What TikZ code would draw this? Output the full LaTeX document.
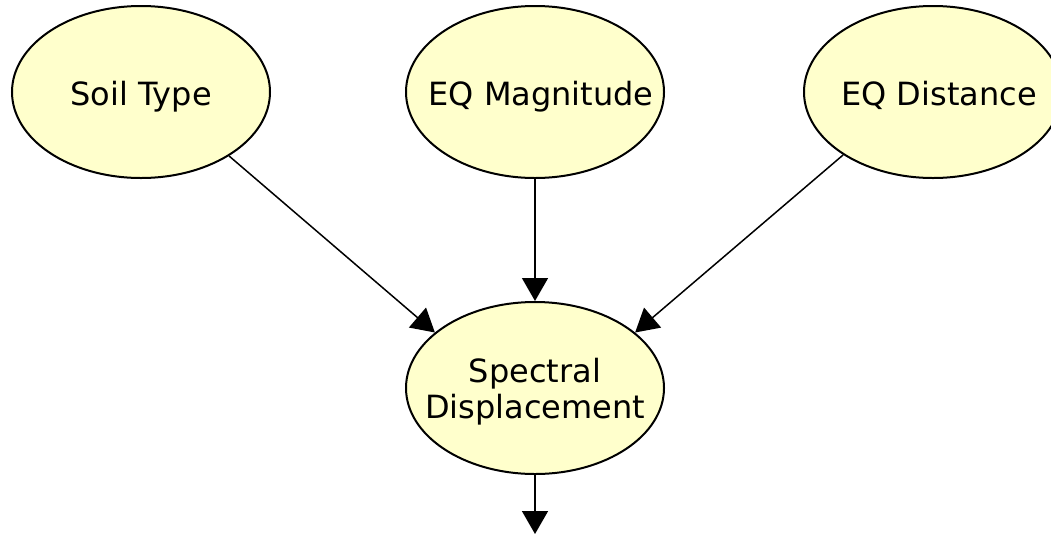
\documentclass[tikz,border=0pt]{standalone}
\usepackage{fontspec}
\setmainfont{DejaVu Sans}
\usetikzlibrary{shapes.geometric,arrows.meta}
\definecolor{nodefill}{HTML}{FFFFCC}
% zero-size label: #1 horizontal offset, #2 first baseline raise, #3 text
\newcommand{\vlabel}[3]{\makebox[0pt][c]{\hspace*{#1}\raisebox{#2}[0pt][0pt]{\begin{tabular}[t]{@{}c@{}}#3\end{tabular}}}}
\tikzset{
  var/.style={ellipse, draw=black, line width=2pt, fill=nodefill,
    minimum width=258pt, minimum height=172pt, inner sep=0pt,
    font=\fontsize{32pt}{36pt}\selectfont},
  link/.style={draw=black, line width=1.5pt,
    -{Triangle[length=23pt,width=26pt]}}
}
\begin{document}
\begin{tikzpicture}[x=1pt,y=-1pt]
  \useasboundingbox (0,0) rectangle (1051,536);
  \node[var] (soil) at (141,92) {\vlabel{0pt}{-13pt}{Soil Type}};
  \node[var] (mag)  at (535,92) {\vlabel{12pt}{-13pt}{EQ Magnitude}};
  \node[var] (dist) at (933,92) {\vlabel{12pt}{-13pt}{EQ Distance}};
  \node[var] (sd)   at (535,388) {\vlabel{0pt}{6pt}{Spectral\\Displacement}};
  \coordinate (out) at (537,534);

  \draw[link] (soil.-36) -- (sd.151.7);
  \draw[link] (mag.south) -- (sd.north);
  \draw[link] (dist.215.8) -- (sd.29.2);
  \draw[link] (sd.south) -- (sd.south |- out);
\end{tikzpicture}
\end{document}
